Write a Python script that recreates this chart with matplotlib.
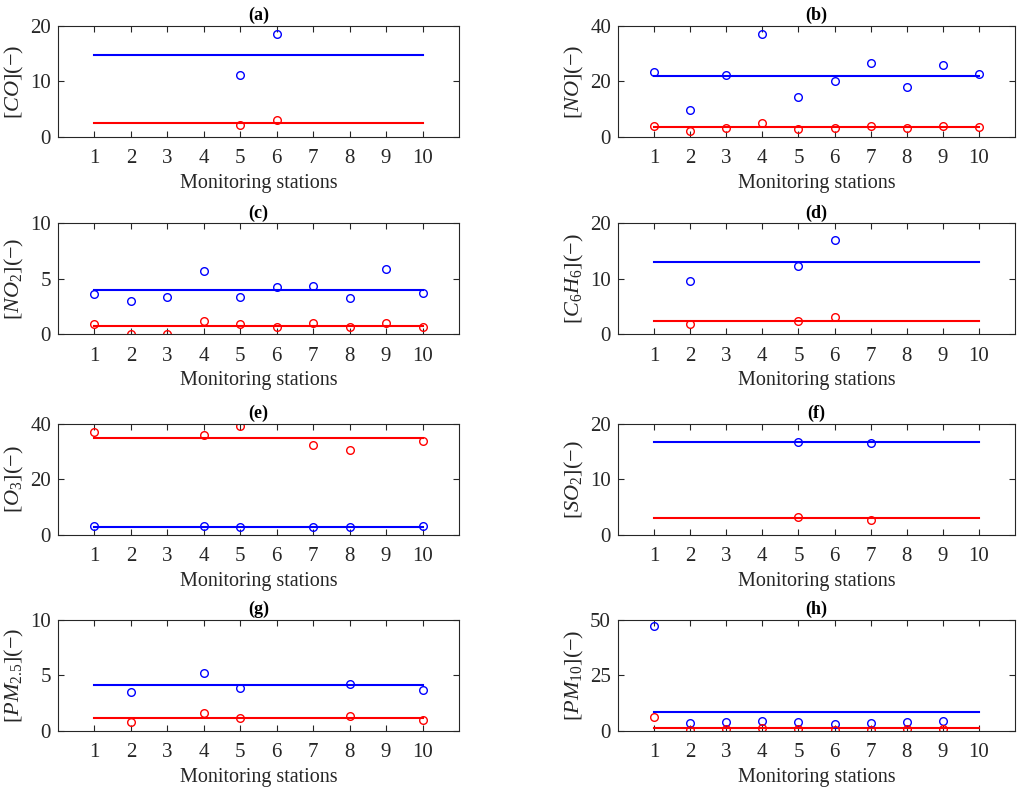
import numpy as np
import matplotlib
matplotlib.use('Agg')
import matplotlib.pyplot as plt

plt.rcParams['font.family'] = 'Liberation Serif'
plt.rcParams['mathtext.fontset'] = 'custom'
plt.rcParams['mathtext.rm'] = 'Liberation Serif'
plt.rcParams['mathtext.it'] = 'Liberation Serif:italic'
plt.rcParams['mathtext.bf'] = 'Liberation Serif:bold'

stations = list(range(1, 11))

# panel labels, y labels, y limits / ticks
titles = ['(a)', '(b)', '(c)', '(d)', '(e)', '(f)', '(g)', '(h)']
ylabels = [r'$[CO](-)$', r'$[NO](-)$', r'$[NO_2](-)$', r'$[C_6H_6](-)$',
           r'$[O_3](-)$', r'$[SO_2](-)$', r'$[PM_{2.5}](-)$', r'$[PM_{10}](-)$']
ymax = [20, 40, 10, 20, 40, 20, 10, 50]
yticks = [[0, 10, 20], [0, 20, 40], [0, 5, 10], [0, 10, 20],
          [0, 20, 40], [0, 10, 20], [0, 5, 10], [0, 25, 50]]

# blue series: stations with data and values
blue_x = [[5, 6],
          [1, 2, 3, 4, 5, 6, 7, 8, 9, 10],
          [1, 2, 3, 4, 5, 6, 7, 8, 9, 10],
          [2, 5, 6],
          [1, 4, 5, 7, 8, 10],
          [5, 7],
          [2, 4, 5, 8, 10],
          [1, 2, 3, 4, 5, 6, 7, 8, 9]]
blue_y = [[11.2, 18.5],
          [23.5, 9.7, 22.3, 37.2, 14.5, 20.2, 26.5, 18.1, 25.9, 22.8],
          [3.58, 2.93, 3.37, 5.68, 3.31, 4.2, 4.35, 3.22, 5.83, 3.67],
          [9.5, 12.2, 16.9],
          [3.1, 3.1, 2.7, 2.7, 2.7, 3.1],
          [16.8, 16.5],
          [3.5, 5.22, 3.86, 4.27, 3.65],
          [47.5, 3.6, 3.9, 4.6, 3.9, 3.1, 3.4, 3.9, 4.3]]
blue_line = [14.85, 22.1, 4.01, 12.9, 2.85, 16.67, 4.1, 8.7]

# red series
red_x = blue_x
red_y = [[2.2, 3.0],
         [3.8, 2.0, 3.2, 5.0, 2.9, 3.4, 4.1, 3.4, 3.8, 3.6],
         [0.86, 0.03, 0.03, 1.21, 0.89, 0.59, 1.0, 0.59, 1.0, 0.65],
         [1.8, 2.4, 3.0],
         [37.0, 36.1, 39.4, 32.5, 30.7, 34.0],
         [3.33, 2.68],
         [0.8, 1.6, 1.16, 1.34, 1.0],
         [6.4, 0.45, 0.7, 1.3, 0.9, 0.45, 0.45, 0.7, 0.7]]
red_line = [2.6, 3.6, 0.68, 2.4, 34.9, 2.98, 1.18, 1.5]

fig = plt.figure(figsize=(10.24, 7.9), dpi=100)
lefts = [0.0566, 0.6035]
bottoms = [0.8266, 0.5772, 0.3228, 0.0747]
w = [0.3916, 0.3877]
h = 0.1405
gray = '#262626'

for i in range(8):
    r, c = divmod(i, 2)
    ax = fig.add_axes([lefts[c], bottoms[r], w[c], h])
    ax.plot([1, 10], [blue_line[i]] * 2, color='blue', lw=1.5)
    ax.plot([1, 10], [red_line[i]] * 2, color='red', lw=1.5)
    ax.plot(blue_x[i], blue_y[i], 'o', mfc='none', mec='blue', ms=5.5, mew=1)
    ax.plot(red_x[i], red_y[i], 'o', mfc='none', mec='red', ms=5.5, mew=1)
    ax.set_xlim(0, 11)
    ax.set_ylim(0, ymax[i])
    ax.set_xticks(stations)
    ax.set_yticks(yticks[i])
    ax.tick_params(direction='in', top=True, right=True, labelsize=15,
                   colors=gray, length=4, width=0.8)
    ax.tick_params(axis='x', pad=9)
    ax.tick_params(axis='y', pad=5)
    for s in ax.spines.values():
        s.set_color(gray)
        s.set_linewidth(0.8)
    ax.set_xlabel('Monitoring stations', fontsize=14.5, color=gray, labelpad=4)
    ax.set_ylabel(ylabels[i], fontsize=16, color=gray, labelpad=3)
    ax.set_title(titles[i], fontsize=13, fontweight='bold', pad=4)

fig.savefig('out.png', dpi=100)
